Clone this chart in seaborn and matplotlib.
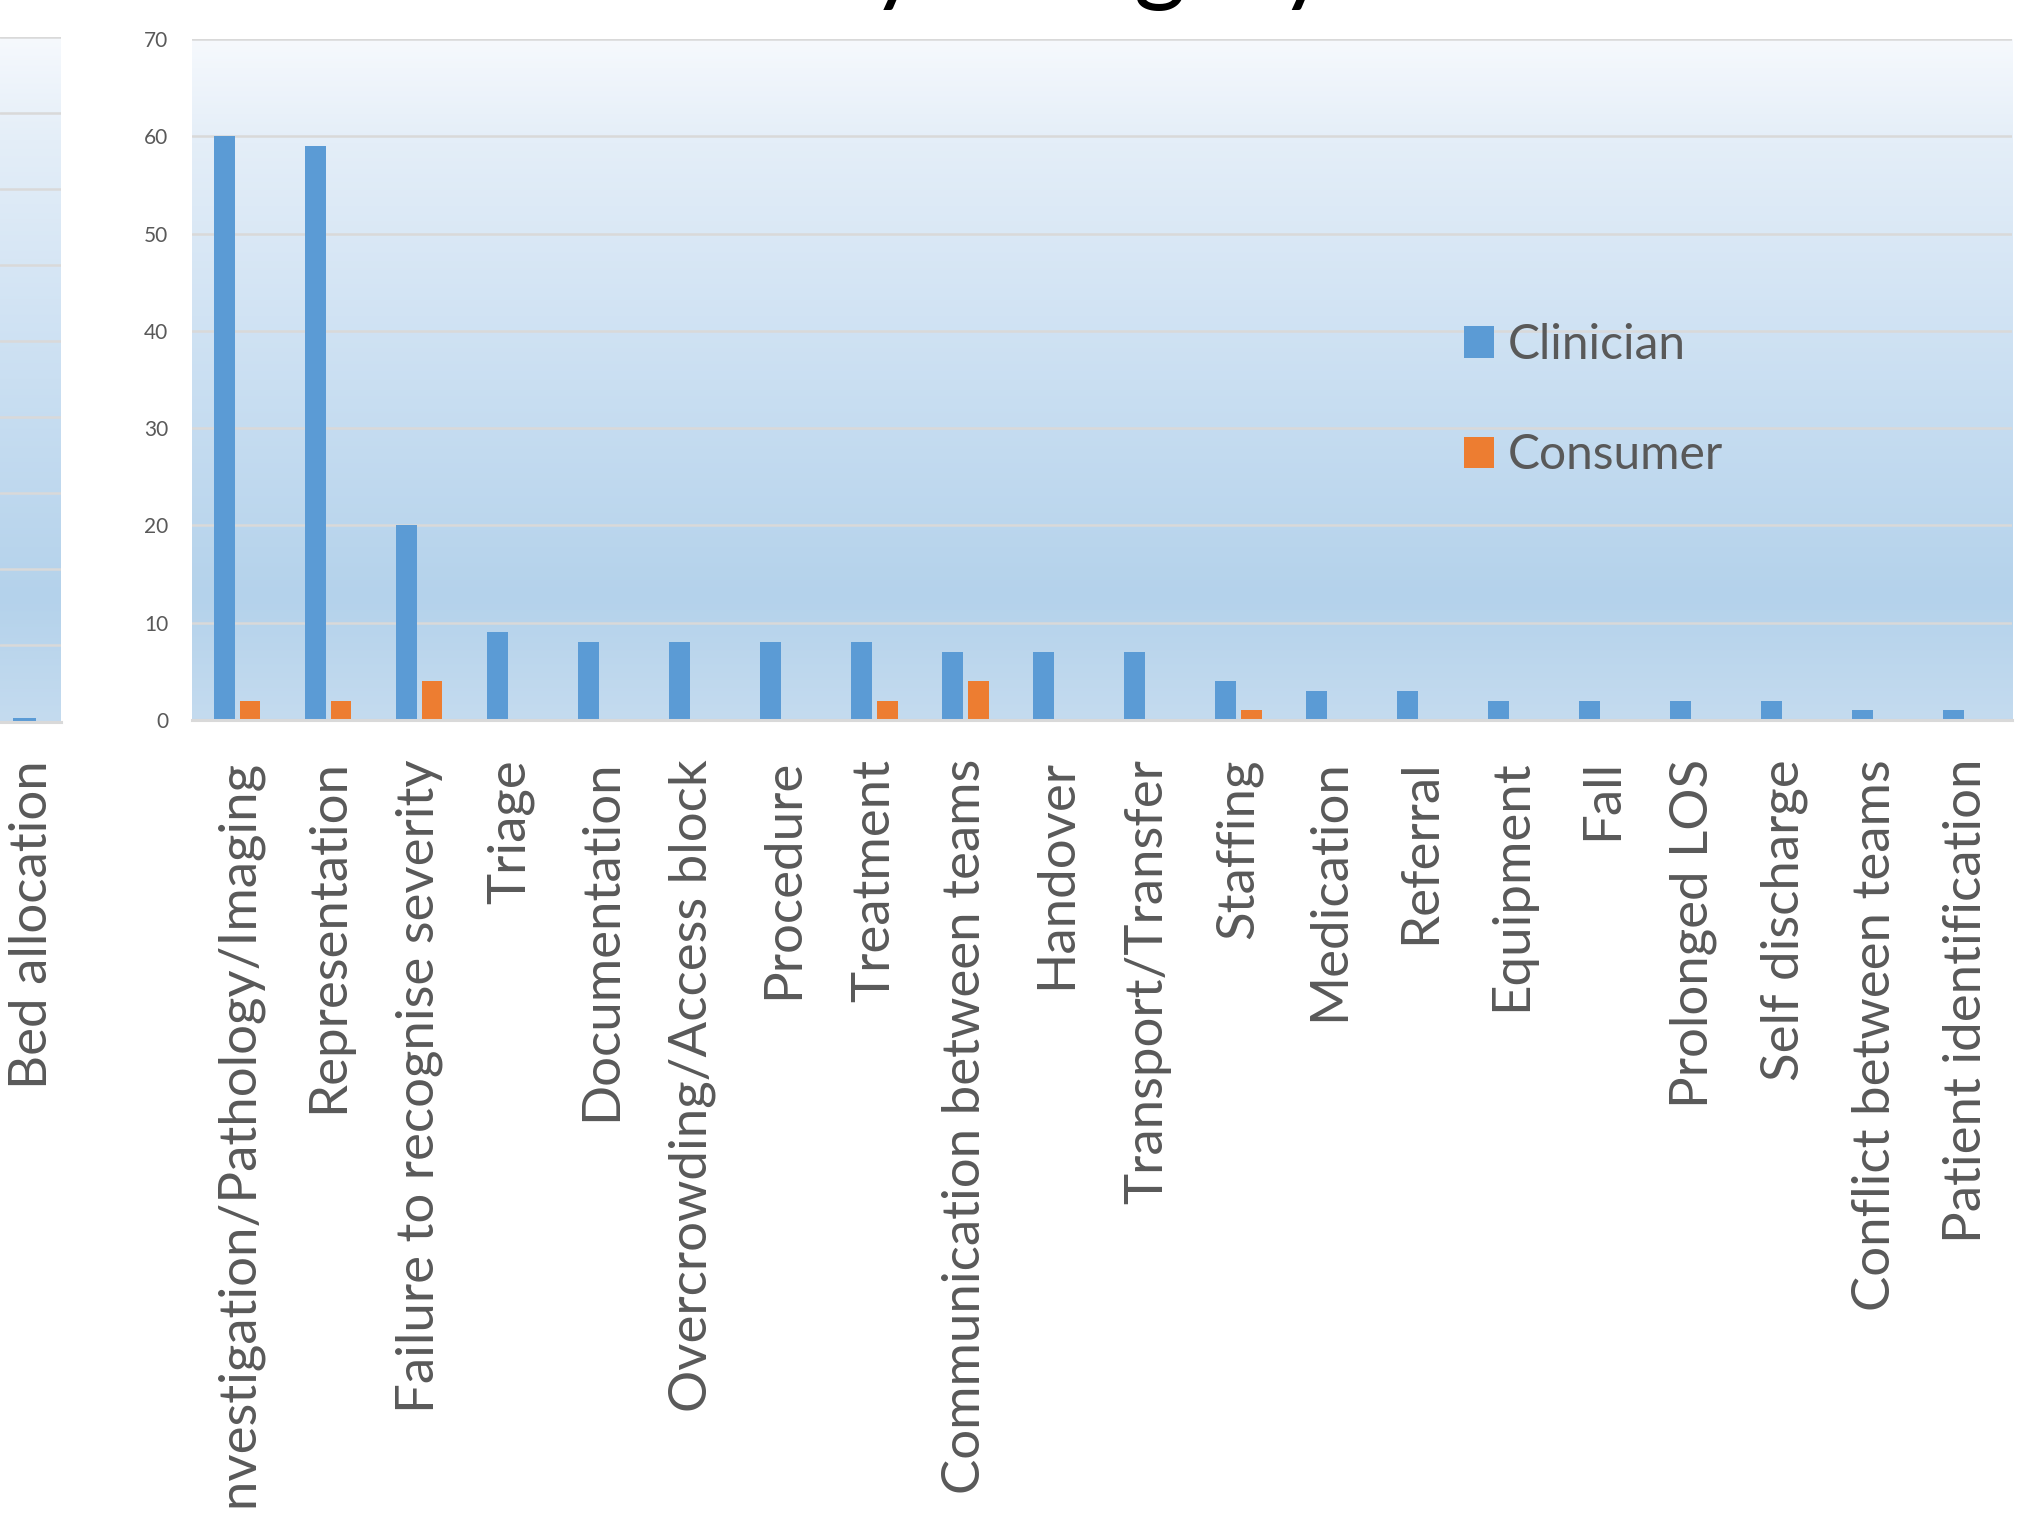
import numpy as np
import pandas as pd
import matplotlib
matplotlib.use("Agg")
import matplotlib.pyplot as plt
from matplotlib.colors import LinearSegmentedColormap
from matplotlib.transforms import ScaledTranslation
import seaborn as sns

# ---- data -------------------------------------------------------------
categories = [
    "Investigation/Pathology/Imaging", "Representation",
    "Failure to recognise severity", "Triage", "Documentation",
    "Overcrowding/Access block", "Procedure", "Treatment",
    "Communication between teams", "Handover", "Transport/Transfer",
    "Staffing", "Medication", "Referral", "Equipment", "Fall",
    "Prolonged LOS", "Self discharge", "Conflict between teams",
    "Patient identification",
]
clinician = [60, 59, 20, 9, 8, 8, 8, 8, 7, 7, 7, 4, 3, 3, 2, 2, 2, 2, 1, 1]
consumer = [2, 2, 4, 0, 0, 0, 0, 2, 4, 0, 0, 1, 0, 0, 0, 0, 0, 0, 0, 0]
series_names = ["Clinician", "Consumer"]

left_categories = ["Bed allocation"]
left_clinician = [1]

main_ticks = [0, 10, 20, 30, 40, 50, 60, 70]
left_ticks = list(range(0, 181, 20))

title_text = "Incidents by category"

# ---- style ------------------------------------------------------------
sns.set_theme(style="white")
plt.rcParams["font.family"] = ["Lato", "DejaVu Sans"]

BLUE = "#5B9BD5"
ORANGE = "#ED7D31"
GRID = "#d9d9d9"
TEXT = "#595959"

W, H = 2043, 1515
fig = plt.figure(figsize=(W / 100, H / 100), dpi=100)
fig.patch.set_facecolor("white")

grad_cmap = LinearSegmentedColormap.from_list(
    "panel",
    [(0.0, (196 / 255, 219 / 255, 239 / 255)),
     (0.18, (180 / 255, 210 / 255, 235 / 255)),
     (0.50, (202 / 255, 223 / 255, 242 / 255)),
     (0.85, (228 / 255, 238 / 255, 248 / 255)),
     (1.0, (246 / 255, 249 / 255, 253 / 255))],
)
grad = np.linspace(0, 1, 256).reshape(-1, 1)


def paint_panel(ax):
    ax.imshow(grad, extent=[0, 1, 0, 1], transform=ax.transAxes,
              aspect="auto", cmap=grad_cmap, origin="lower", zorder=-2)


def style_axes(ax):
    for s in ["top", "right", "left"]:
        ax.spines[s].set_visible(False)
    ax.spines["bottom"].set_color(GRID)
    ax.spines["bottom"].set_linewidth(2.2)
    ax.set_axisbelow(True)
    ax.yaxis.grid(True, color=GRID, linewidth=1.8)
    ax.xaxis.grid(False)
    ax.tick_params(length=0)
    ax.set_xlabel("")
    ax.set_ylabel("")


# ---- main chart ---------------------------------------------------------
ax = fig.add_axes([191.7 / W, (H - 720) / H, (2012 - 191.7) / W, (720 - 39) / H])
paint_panel(ax)

df = pd.DataFrame({
    "category": categories * 2,
    "count": clinician + consumer,
    "source": [series_names[0]] * len(categories) + [series_names[1]] * len(categories),
})
sns.barplot(data=df, x="category", y="count", hue="source",
            palette={series_names[0]: BLUE, series_names[1]: ORANGE},
            saturation=1, width=0.56, gap=0.18, errorbar=None,
            linewidth=0, ax=ax)
ax.set_xlim(-0.5, len(categories) - 0.5)
ax.set_ylim(0, 70)
ax.set_yticks(main_ticks)
style_axes(ax)
ax.tick_params(axis="x", labelrotation=90, labelsize=38, labelcolor=TEXT, pad=28)
ax.tick_params(axis="y", labelsize=15, labelcolor=TEXT, pad=17)

handles, labels = ax.get_legend_handles_labels()
ax.legend(handles, labels, loc="upper left",
          bbox_to_anchor=(1463.5 / W, 1 - 323 / H), bbox_transform=fig.transFigure,
          frameon=False, fontsize=34.5, labelcolor=TEXT,
          handlelength=0.63, handleheight=0.63, handletextpad=0.3,
          labelspacing=1.38, borderpad=0, borderaxespad=0)

# ---- neighbouring panel on the left -------------------------------------
axl = fig.add_axes([0, (H - 721.5) / H, 60.7 / W, (721.5 - 36.5) / H])
paint_panel(axl)
sns.barplot(x=left_categories, y=left_clinician, color=BLUE, saturation=1,
            width=0.23, errorbar=None, linewidth=0, ax=axl)
axl.set_xlim(-0.245, 0.362)
axl.set_ylim(0, 180)
axl.set_yticks(left_ticks)
style_axes(axl)
axl.set_yticklabels([])
axl.tick_params(axis="x", labelrotation=90, labelsize=38, labelcolor=TEXT, pad=28)
shift = ScaledTranslation(8 / 100, 0, fig.dpi_scale_trans)
for lab in axl.get_xticklabels():
    lab.set_transform(lab.get_transform() + shift)

# ---- title ---------------------------------------------------------------
fig.text(1330 / W, 1 + 7 / H, title_text, ha="right", va="baseline",
         fontsize=72, color="black")

fig.savefig("out.png", dpi=100, facecolor="white")
